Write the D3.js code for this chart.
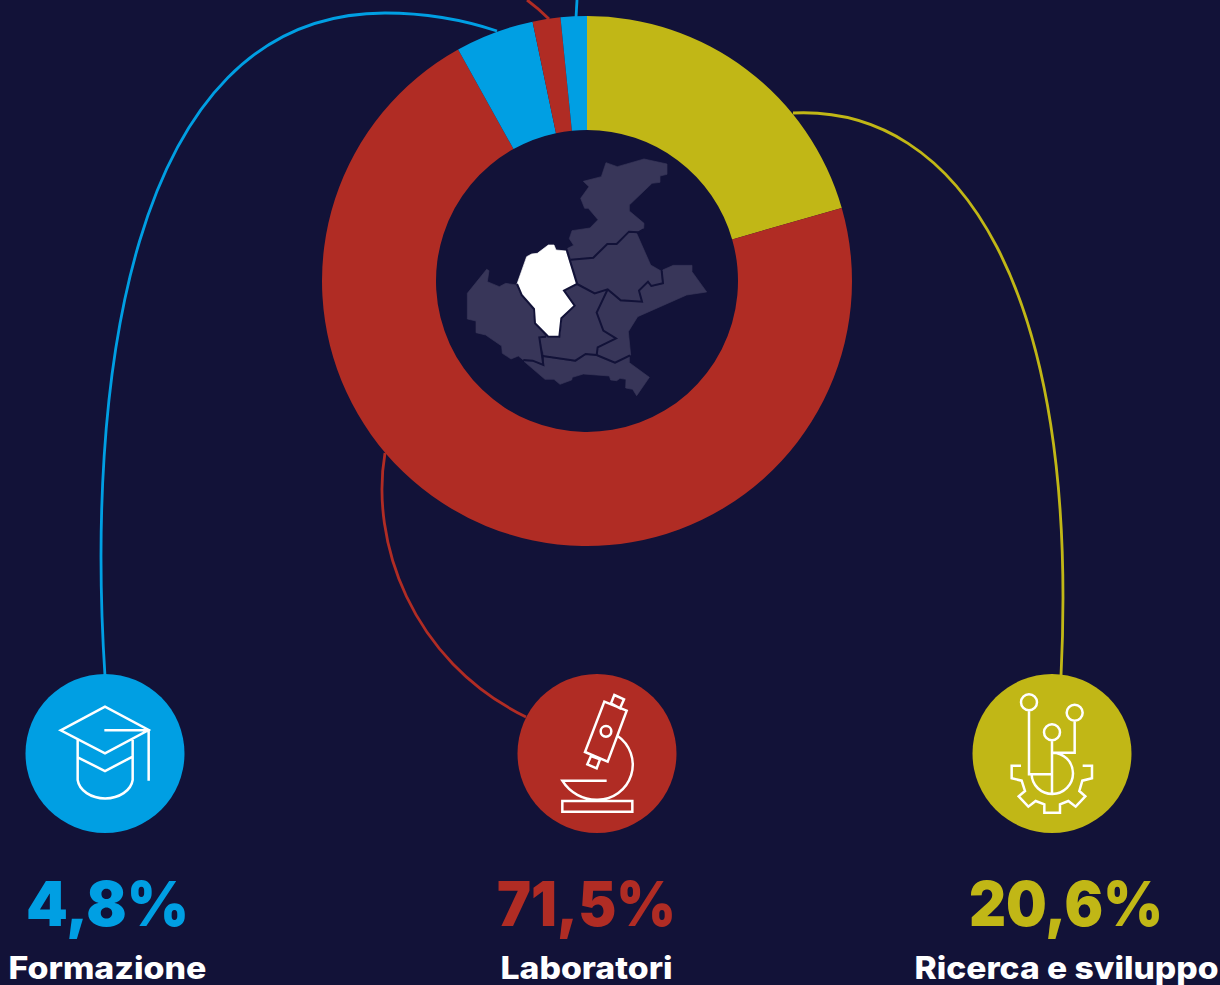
<!DOCTYPE html>
<html>
<head>
<meta charset="utf-8">
<script src="https://cdn.jsdelivr.net/npm/d3@7"></script>
<style>
  html, body { margin: 0; padding: 0; background: #121238; overflow: hidden; }
  text { font-family: Inter, "Open Sans", sans-serif; text-anchor: middle; }
</style>
</head>
<body>
<div id="chart"></div>
<script>
// slices clockwise from 12 o'clock
const sliceNames = ["Ricerca e sviluppo", "Laboratori", "Formazione", "Altro 1", "Altro 2"];
const sliceValues = [20.6, 71.5, 4.8, 1.7, 1.6];
const sliceColors = ["#c1b716", "#b02c24", "#009fe3", "#b02c24", "#009fe3"];

const labelNames = ["Formazione", "Laboratori", "Ricerca e sviluppo"];
const labelValues = ["4,8%", "71,5%", "20,6%"];
const labelColors = ["#009fe3", "#b02c24", "#c1b716"];

const width = 1220;
const height = 985;
const bg = "#121238";
const cx = 587, cy = 281, outerR = 265, innerR = 151;

const svg = d3.select("#chart").append("svg").attr("width", width).attr("height", height).style("display", "block");
svg.append("rect").attr("width", width).attr("height", height).attr("fill", bg);

// connector lines go under the donut
const connectors = [
  { color: "#009fe3", d: "M105,676 C87,400 122,13 385,13 C430,13 470,22 497,31" },
  { color: "#009fe3", d: "M577,0 L576,18" },
  { color: "#b02c24", d: "M527,0 Q538,8 549,19" },
  { color: "#b02c24", d: "M385,453 C370,540 410,660 526,717" },
  { color: "#c1b716", d: "M793,113 C960,105 1080,290 1061,676" }
];
svg.selectAll("path.connector").data(connectors).enter().append("path")
  .attr("class", "connector")
  .attr("d", d => d.d)
  .attr("fill", "none")
  .attr("stroke", d => d.color)
  .attr("stroke-width", 2.8);

const pie = d3.pie().sort(null)(sliceValues);
const arc = d3.arc().innerRadius(innerR).outerRadius(outerR);
const donut = svg.append("g").attr("transform", `translate(${cx},${cy})`);
donut.selectAll("path").data(pie).enter().append("path")
  .attr("d", arc)
  .attr("fill", (d, i) => sliceColors[i]);

// map of the region, traced in a 3x space
const provinces = [
  { fill: "#383659", pts: [[498,68],[532,80],[612,57],[681,72],[681,103],[660,108],[660,127],[636,130],[568,195],[568,213],[612,250],[611,265],[595,277],[567,273],[530,310],[502,310],[460,353],[392,359],[383,325],[401,316],[388,296],[396,272],[450,264],[474,239],[445,205],[434,205],[422,175],[447,140],[430,124],[484,110]] },
  { fill: "#383659", pts: [[392,359],[460,353],[502,312],[530,312],[567,275],[590,280],[632,375],[663,393],[667,430],[634,438],[624,425],[597,452],[606,485],[542,481],[503,448],[464,460],[415,431]] },
  { fill: "#383659", pts: [[668,390],[700,376],[756,376],[756,395],[800,456],[740,465],[593,530],[565,575],[572,645],[525,668],[470,645],[473,622],[528,595],[490,572],[470,518],[503,452],[542,484],[608,485],[598,452],[624,428],[634,440],[670,431]] },
  { fill: "#383659", pts: [[415,433],[464,462],[500,448],[470,518],[490,572],[526,595],[473,620],[470,645],[437,641],[406,662],[312,647],[298,592],[318,590],[358,590],[364,535],[404,497],[372,452]] },
  { fill: "#383659", pts: [[140,388],[147,392],[142,425],[178,440],[197,430],[230,435],[245,465],[282,507],[285,550],[318,590],[298,592],[305,640],[310,675],[278,662],[250,660],[235,648],[213,657],[187,640],[185,618],[137,585],[108,578],[108,543],[82,537],[82,460]] },
  { fill: "#383659", pts: [[252,664],[278,664],[312,677],[312,650],[406,665],[437,644],[470,648],[525,671],[568,650],[568,668],[628,712],[590,767],[578,748],[557,744],[558,718],[540,715],[530,722],[512,720],[508,708],[430,702],[397,712],[395,720],[360,733],[342,718],[315,718]] },
  { fill: "#ffffff", pts: [[325,315],[342,315],[348,330],[378,333],[411,432],[372,452],[404,497],[364,535],[358,590],[325,590],[285,550],[282,507],[245,465],[231,432],[260,350],[275,342],[292,340]] }
];
// dark borders between neighbouring provinces
const borders = [
  [[392,359],[460,353],[502,312],[530,312],[567,275],[595,277],[611,268]],
  [[381,333],[411,432],[372,452],[404,497],[364,535],[358,590],[325,590],[285,550],[282,507],[245,465],[231,432]],
  [[411,432],[464,460],[503,448],[542,481],[606,485],[597,452],[624,425],[634,438],[669,430],[665,392]],
  [[503,448],[470,518],[490,572],[528,595],[473,622],[470,645]],
  [[318,590],[298,592],[305,640],[310,675],[278,662],[250,660]],
  [[308,648],[406,662],[437,642],[470,645],[525,668],[570,646]]
];
const line = d3.line().curve(d3.curveLinearClosed);
const openLine = d3.line();
const map = svg.append("g").attr("transform", "translate(440,140) scale(0.33333)");
map.selectAll("path.area").data(provinces).enter().append("path")
  .attr("class", "area")
  .attr("d", d => line(d.pts))
  .attr("fill", d => d.fill)
  .attr("stroke", d => d.fill)
  .attr("stroke-width", 2);
map.selectAll("path.border").data(borders).enter().append("path")
  .attr("class", "border")
  .attr("d", d => openLine(d))
  .attr("fill", "none")
  .attr("stroke", bg)
  .attr("stroke-width", 6);

// icons
const iconCx = [105, 597, 1052];
const iconCy = 753.5;
const iconR = 79.5;
svg.selectAll("circle.badge").data(iconCx).enter().append("circle")
  .attr("class", "badge")
  .attr("cx", d => d).attr("cy", iconCy).attr("r", iconR)
  .attr("fill", (d, i) => labelColors[i]);

const icons = [
  { x: 20, y: 670, d: "M122,181 L255,110 L386,180 L255,250 Z M253,181 H386 V332 M173,208 V330 A83,62 0 0 0 338,330 V210 M173,262 L255,303 L338,260" },
  { x: 510, y: 670, d: "M283,95 L350,122 L293,275 L225,246 Z M313,75 L342,88 L330,115 L303,100 Z M243,258 L270,268 L260,295 L232,283 Z M304,184 A16,16 0 1 1 272,184 A16,16 0 1 1 304,184 M322,197 A105,105 0 0 1 262,389 A120,120 0 0 1 157,332 H290 M157,393 H367 V425 H157 Z" },
  { x: 965, y: 670, d: "M168,287 H140 V325 L170,332 L180,363 L161,379 L190,410 L212,393 L238,403 V428 H285 V403 L310,393 L332,410 L361,379 L343,363 L352,332 L381,325 V287 H353 M216,97 A24,24 0 1 1 168,97 A24,24 0 1 1 216,97 M285,187 A24,24 0 1 1 237,187 A24,24 0 1 1 285,187 M353,128 A24,24 0 1 1 305,128 A24,24 0 1 1 353,128 M192,121 V313 H262 M261,211 V372 M329,152 V248 H262 A62,62 0 0 1 262,372 A62,60 0 0 1 200,313" }
];
svg.selectAll("path.icon").data(icons).enter().append("path")
  .attr("class", "icon")
  .attr("transform", d => `translate(${d.x},${d.y}) scale(0.33333)`)
  .attr("d", d => d.d)
  .attr("fill", "none")
  .attr("stroke", "#ffffff")
  .attr("stroke-width", 7.5);

// value and name under each badge
const valueX = [107.5, 586.5, 1066];
const valueW = [163, 179, 194];
const nameX = [107.5, 586.5, 1066.5];
const nameW = [198, 172, 304];

svg.selectAll("text.value").data(labelValues).enter().append("text")
  .attr("class", "value")
  .attr("x", (d, i) => valueX[i]).attr("y", 926)
  .attr("textLength", (d, i) => valueW[i])
  .attr("lengthAdjust", "spacingAndGlyphs")
  .attr("font-size", 62).attr("font-weight", 900)
  .attr("fill", (d, i) => labelColors[i])
  .text(d => d);

svg.selectAll("text.name").data(labelNames).enter().append("text")
  .attr("class", "name")
  .attr("x", (d, i) => nameX[i]).attr("y", 979)
  .attr("textLength", (d, i) => nameW[i])
  .attr("lengthAdjust", "spacingAndGlyphs")
  .attr("font-size", 31).attr("font-weight", 800)
  .attr("fill", "#ffffff")
  .text(d => d);
</script>
</body>
</html>
